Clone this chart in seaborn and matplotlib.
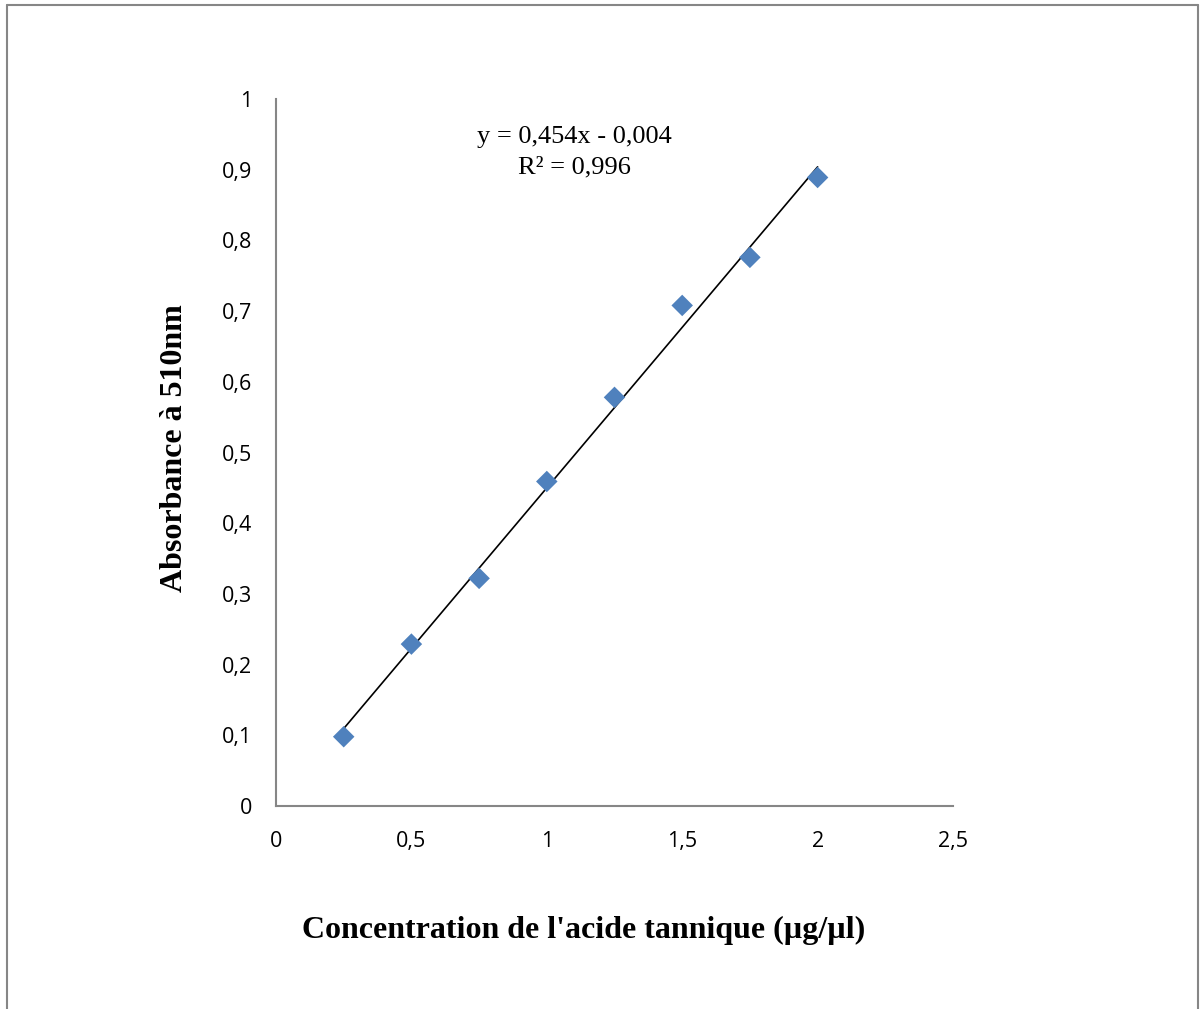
import matplotlib
matplotlib.use("Agg")
import matplotlib.pyplot as plt
import seaborn as sns
import numpy as np
import pandas as pd
from matplotlib.lines import Line2D

# Data
concentration = [0.25, 0.5, 0.75, 1.0, 1.25, 1.5, 1.75, 2.0]
absorbance = [0.098, 0.229, 0.322, 0.459, 0.578, 0.708, 0.776, 0.889]
slope = 0.454
intercept = -0.004
equation_text = "y = 0,454x - 0,004"
r2_text = "R² = 0,996"
x_ticks = [0, 0.5, 1, 1.5, 2, 2.5]
x_tick_labels = ["0", "0,5", "1", "1,5", "2", "2,5"]
y_ticks = [0, 0.1, 0.2, 0.3, 0.4, 0.5, 0.6, 0.7, 0.8, 0.9, 1]
y_tick_labels = ["0", "0,1", "0,2", "0,3", "0,4", "0,5", "0,6", "0,7", "0,8", "0,9", "1"]
x_label = "Concentration de l'acide tannique (µg/µl)"
y_label = "Absorbance à 510nm"

sns.set_theme(style="white")
plt.rcParams['font.family'] = ['Open Sans', 'DejaVu Sans']
plt.rcParams['text.color'] = 'black'
plt.rcParams['axes.labelcolor'] = 'black'

W, H = 1201, 1009
fig = plt.figure(figsize=(W / 100, H / 100), dpi=100)
ax = fig.add_axes([276 / W, 1 - 806 / H, (953 - 276) / W, (806 - 99) / H])

df = pd.DataFrame({"x": concentration, "y": absorbance})
trend_x = [min(concentration), max(concentration)]
trend_df = pd.DataFrame({"x": trend_x, "y": [slope * v + intercept for v in trend_x]})

sns.lineplot(data=trend_df, x="x", y="y", ax=ax, color="black", linewidth=1.2, zorder=2)
sns.scatterplot(data=df, x="x", y="y", ax=ax, marker="D", s=120, color="#4F81BD",
                edgecolor="none", zorder=3)

ax.set_xlim(0, 2.5)
ax.set_ylim(0, 1)
ax.set_xticks(x_ticks)
ax.set_xticklabels(x_tick_labels)
ax.set_yticks(y_ticks)
ax.set_yticklabels(y_tick_labels)

for side in ["top", "right"]:
    ax.spines[side].set_visible(False)
for side in ["left", "bottom"]:
    ax.spines[side].set_color("#868686")
    ax.spines[side].set_linewidth(1.5)

ax.tick_params(axis="both", which="major", direction="out", length=6, width=1.2,
               color="#868686", labelsize=15.5, labelcolor="black")
ax.tick_params(axis="x", pad=12)
ax.tick_params(axis="y", pad=11)
ax.grid(False)

ax.set_xlabel("")
ax.set_ylabel("")
fig.text(584 / W, 1 - 930 / H, x_label, ha="center", va="center", color="black",
         family=["Liberation Serif", "DejaVu Serif"], fontweight="bold", fontsize=23)
fig.text(175 / W, 1 - 448 / H, y_label, ha="center", va="center", rotation=90, color="black",
         family=["Liberation Serif", "DejaVu Serif"], fontweight="bold", fontsize=23)

fig.text(574 / W, 1 - 137 / H, equation_text, ha="center", va="center", color="black",
         family=["Liberation Serif", "DejaVu Serif"], fontsize=19)
fig.text(574 / W, 1 - 167 / H, r2_text, ha="center", va="center", color="black",
         family=["Liberation Serif", "DejaVu Serif"], fontsize=19)

# Outer frame
fc = "#868686"
fig.add_artist(Line2D([7 / W, 7 / W], [0, 1 - 5 / H], transform=fig.transFigure, color=fc, lw=1.5))
fig.add_artist(Line2D([7 / W, 1198 / W], [1 - 5 / H, 1 - 5 / H], transform=fig.transFigure, color=fc, lw=1.5))
fig.add_artist(Line2D([1198 / W, 1198 / W], [0, 1 - 5 / H], transform=fig.transFigure, color=fc, lw=1.5))

fig.savefig("out.png", dpi=100, facecolor="white")
